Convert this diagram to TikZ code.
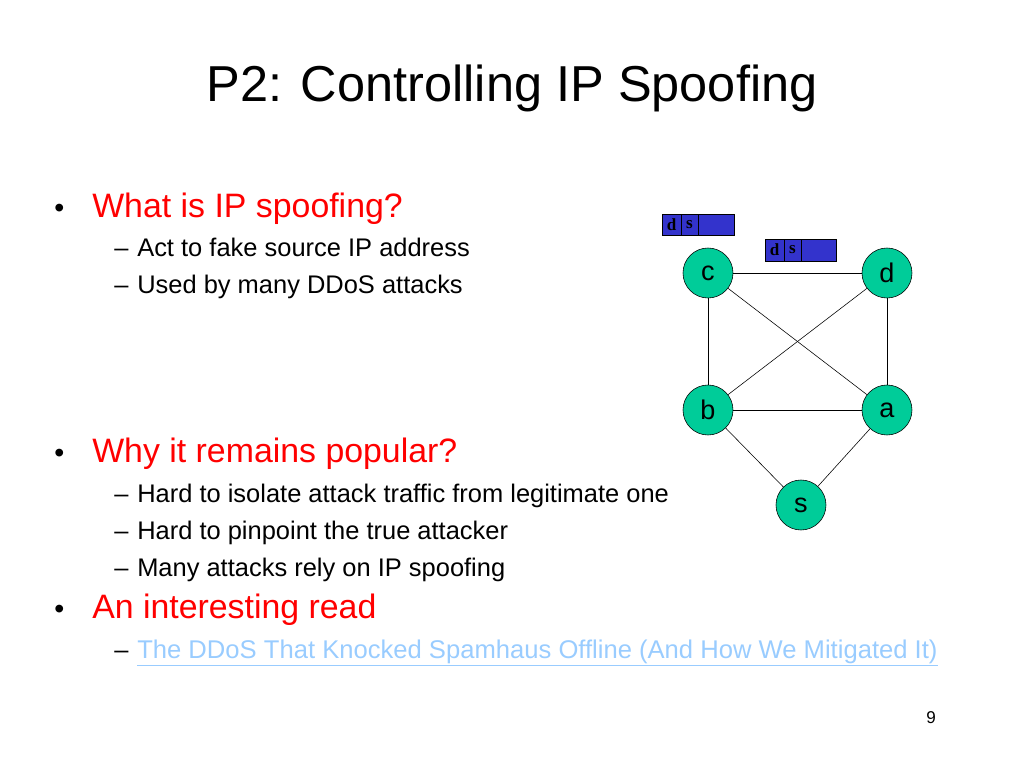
\documentclass[tikz,border=0pt]{standalone}
\usepackage{fontspec}
\setmainfont{Liberation Sans}
\newfontfamily\pktfont{Liberation Serif}
\definecolor{nodegreen}{RGB}{0,204,153}
\definecolor{pktblue}{RGB}{51,51,204}
\definecolor{linkblue}{RGB}{153,204,255}
\begin{document}
\begin{tikzpicture}[x=0.703pt, y=-0.703pt, every node/.style={inner sep=0pt},
    n/.style={circle, draw, fill=nodegreen, minimum size=50*0.703pt, font=\fontsize{19}{21}\selectfont},
    cell/.style={draw, fill=pktblue, font=\fontsize{12}{12}\bfseries\pktfont},
    l1/.style={anchor=base west, text=red, font=\fontsize{23.8}{28}\selectfont},
    l2/.style={anchor=base west, font=\fontsize{17.9}{21}\selectfont}]
    \useasboundingbox (0,0) rectangle (1024,768);

    \node[font=\fontsize{35.5}{40}\selectfont] (title) at (512,88) {P2: Controlling IP Spoofing};

    \node[anchor=base west, font=\fontsize{20}{24}\selectfont] at (54,217) {•};
    \node[l1] (q1) at (92,217) {What is IP spoofing?};
    \node[l2] at (114,256) {–};
    \node[l2] at (137,256) {Act to fake source IP address};
    \node[l2] at (114,293) {–};
    \node[l2] at (137,293) {Used by many DDoS attacks};
    \node[anchor=base west, font=\fontsize{20}{24}\selectfont] at (54,462) {•};
    \node[l1] (q2) at (92,462) {Why it remains popular?};
    \node[l2] at (114,502) {–};
    \node[l2] at (137,502) {Hard to isolate attack traffic from legitimate one};
    \node[l2] at (114,539) {–};
    \node[l2] at (137,539) {Hard to pinpoint the true attacker};
    \node[l2] at (114,576) {–};
    \node[l2] at (137,576) {Many attacks rely on IP spoofing};
    \node[anchor=base west, font=\fontsize{20}{24}\selectfont] at (54,618) {•};
    \node[l1] (q3) at (92,618) {An interesting read};
    \node[l2] at (114,658) {–};
    \node[l2, text=linkblue, font=\fontsize{18}{21}\selectfont] (link) at (137,658) {\underline{The DDoS That Knocked Spamhaus Offline (And How We Mitigated It)}};
    \node[font=\fontsize{12}{14}\selectfont] (page) at (931,718) {9};

    % packets
    \draw[cell] (662,214) rectangle (681,235) node[midway] {d};
    \draw[cell] (681,214) rectangle (698,235) node[midway] {s};
    \draw[cell] (698,214) rectangle (734,235);
    \draw[cell] (765,239) rectangle (784,261) node[midway] {d};
    \draw[cell] (784,239) rectangle (801,261) node[midway] {s};
    \draw[cell] (801,239) rectangle (836,261);

    % network
    \node[n] (c) at (708,273) {c};
    \node[n] (d) at (887,273) {d};
    \node[n] (b) at (708,410) {b};
    \node[n] (a) at (887,410) {a};
    \node[n] (s) at (801,505) {s};

    \draw (c) edge (d);
    \draw (c) edge (b);
    \draw (c) edge (a);
    \draw (d) edge (b);
    \draw (d) edge (a);
    \draw (b) edge (a);
    \draw (b) edge (s);
    \draw (a) edge (s);
\end{tikzpicture}
\end{document}
